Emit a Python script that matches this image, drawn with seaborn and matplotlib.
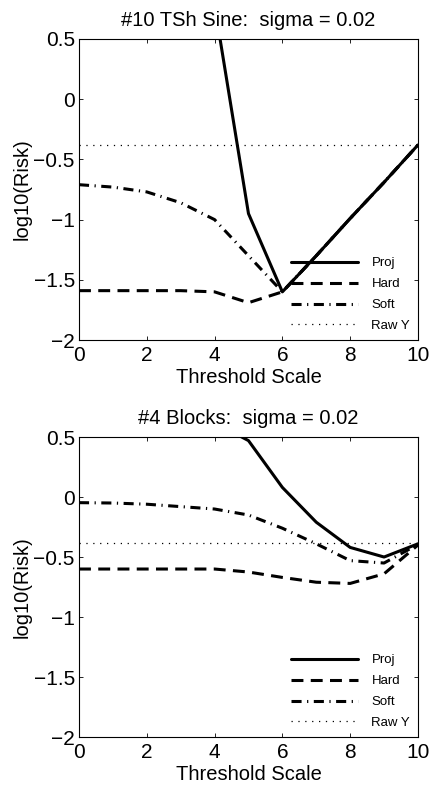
import numpy as np
import pandas as pd
import matplotlib
matplotlib.use("Agg")
import matplotlib.pyplot as plt
import seaborn as sns

sns.set_theme(style="white")
plt.rcParams['font.family'] = ['Liberation Sans', 'DejaVu Sans']
plt.rcParams['text.color'] = 'black'
plt.rcParams['axes.labelcolor'] = 'black'

x_scale = [0, 1, 2, 3, 4, 5, 6, 7, 8, 9, 10]

# Panel 1: #10 TSh Sine
sine_proj = [3.2, 2.8, 2.3, 1.6, 0.78, -0.95, -1.60, -1.30, -0.99, -0.69, -0.38]
sine_hard = [-1.59, -1.59, -1.59, -1.59, -1.60, -1.69, -1.60, -1.30, -0.99, -0.69, -0.38]
sine_soft = [-0.71, -0.73, -0.77, -0.86, -1.00, -1.30, -1.60, -1.30, -0.99, -0.69, -0.38]
sine_raw = [-0.38] * 11

# Panel 2: #4 Blocks
blocks_proj = [2.0, 1.6, 1.2, 0.9, 0.62, 0.47, 0.08, -0.21, -0.42, -0.50, -0.39]
blocks_hard = [-0.60, -0.60, -0.60, -0.60, -0.60, -0.625, -0.67, -0.71, -0.72, -0.64, -0.40]
blocks_soft = [-0.047, -0.05, -0.06, -0.08, -0.10, -0.15, -0.26, -0.39, -0.53, -0.55, -0.395]
blocks_raw = [-0.38] * 11

titles = ["#10 TSh Sine:  sigma = 0.02", "#4 Blocks:  sigma = 0.02"]
labels = ["Proj", "Hard", "Soft", "Raw Y"]
x_ticks = [0, 2, 4, 6, 8, 10]
y_ticks = [-2, -1.5, -1, -0.5, 0, 0.5]
y_ticklabels = ["\u22122", "\u22121.5", "\u22121", "\u22120.5", "0", "0.5"]

panels = [
    (sine_proj, sine_hard, sine_soft, sine_raw),
    (blocks_proj, blocks_hard, blocks_soft, blocks_raw),
]

styles = [
    dict(linestyle="-", linewidth=2.2),
    dict(linestyle=(0, (3.9, 2.4)), linewidth=2.2),
    dict(linestyle=(0, (3.3, 1.8, 0.4, 1.8)), linewidth=2.2),
    dict(linestyle=(0, (1, 4.5)), linewidth=0.9),
]

fig = plt.figure(figsize=(4.3, 7.86), dpi=100)
rects = [
    [0.1837, 0.5674, 0.7883, 0.3830],
    [0.1837, 0.0623, 0.7883, 0.3817],
]

for rect, title, series in zip(rects, titles, panels):
    ax = fig.add_axes(rect)
    for vals, lab, st in zip(series, labels, styles):
        sns.lineplot(x=x_scale, y=vals, ax=ax, color="black", label=lab,
                     sort=False, **st)
    ax.set_xlim(0, 10)
    ax.set_ylim(-2, 0.5)
    ax.set_xticks(x_ticks)
    ax.set_xticklabels([str(t) for t in x_ticks])
    ax.set_yticks(y_ticks)
    ax.set_yticklabels(y_ticklabels)
    ax.tick_params(direction="in", length=3, width=0.6, colors="black",
                   top=True, right=True, bottom=True, left=True,
                   labelsize=15)
    ax.tick_params(axis="x", pad=4.5)
    ax.tick_params(axis="y", pad=3)
    for sp in ax.spines.values():
        sp.set_color("black")
        sp.set_linewidth(0.8)
    ax.set_xlabel("Threshold Scale", fontsize=14.5, labelpad=2, color="black")
    ax.set_ylabel("log10(Risk)", fontsize=14.5, labelpad=1, color="black")
    ax.set_title(title, fontsize=14.5, pad=9.5, color="black")
    leg = ax.legend(loc="lower right", frameon=False, fontsize=9.5,
                    handlelength=5.1, handletextpad=1.0, labelspacing=0.66,
                    borderaxespad=0.2)
    for t in leg.get_texts():
        t.set_color("black")

fig.savefig("out.png", dpi=100)
